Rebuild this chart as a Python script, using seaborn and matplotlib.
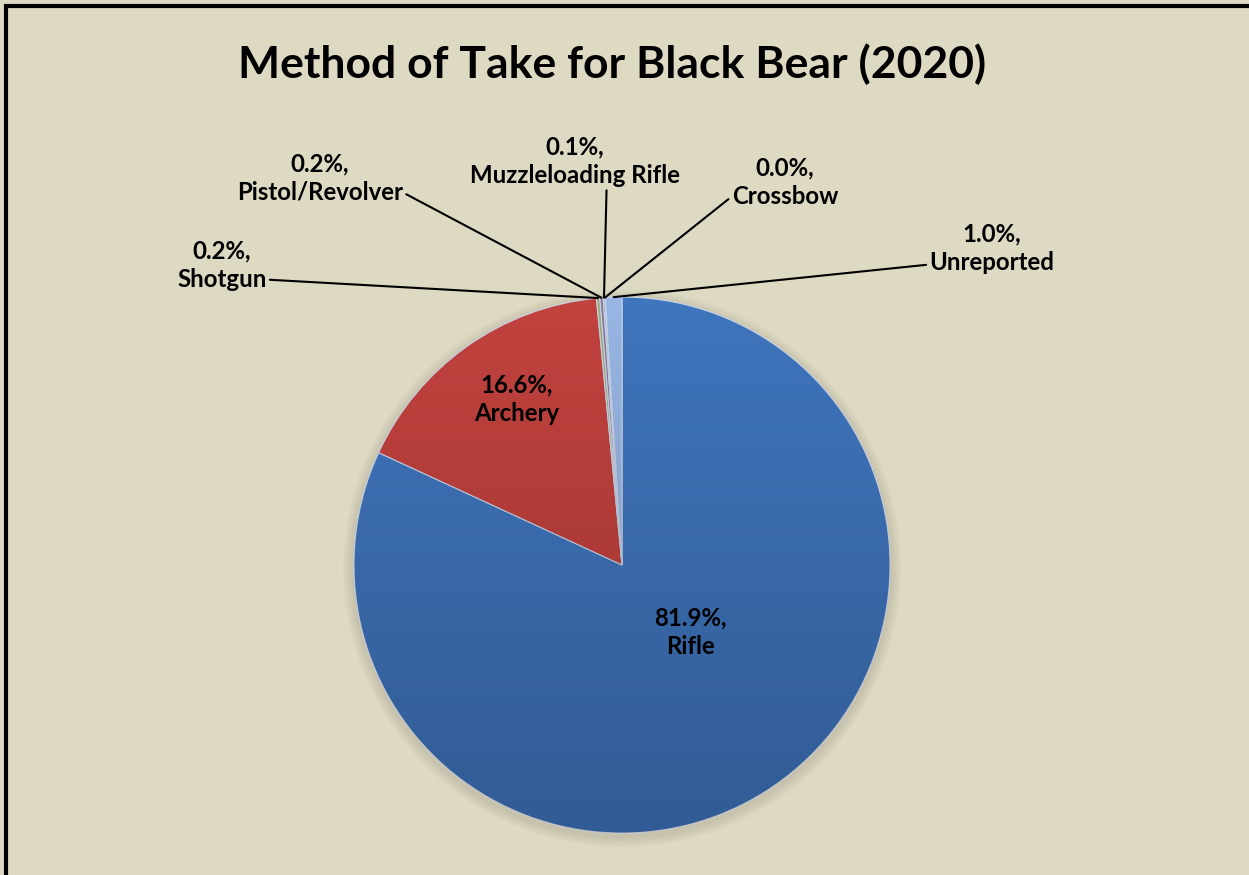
import matplotlib
matplotlib.use("Agg")
import matplotlib.pyplot as plt
import seaborn as sns
import numpy as np
from matplotlib.patches import Rectangle, Ellipse

# ---- data ----
categories = ["Rifle", "Archery", "Shotgun", "Pistol/Revolver",
              "Muzzleloading Rifle", "Crossbow", "Unreported"]
percentages = [81.9, 16.6, 0.2, 0.2, 0.1, 0.0, 1.0]
pct_labels = ["81.9%", "16.6%", "0.2%", "0.2%", "0.1%", "0.0%", "1.0%"]
title = "Method of Take for Black Bear (2020)"

# ---- style ----
sns.set_theme(style="white")
plt.rcParams["font.family"] = ["Lato", "DejaVu Sans"]
bg = "#DDD9C3"
colors = ["#3F75BD", "#C2423E", "#9BAE7A", "#8A7A9E", "#7FA9B8", "#C8B48A", "#98B5E3"]

fig = plt.figure(figsize=(12.49, 8.75), dpi=100)
fig.patch.set_facecolor(bg)

# frame (top and left edges visible)
fig.patches.append(Rectangle((5.5 / 1249, -0.05), 1.2, 1.05 - 6.5 / 875,
                             transform=fig.transFigure, fill=False,
                             edgecolor="black", linewidth=3, zorder=10))

cx, cy, r = 622, 565, 268
W, H = 1249, 875
ax = fig.add_axes([(cx - r) / W, (H - cy - r) / H, 2 * r / W, 2 * r / H])
ax.set_facecolor("none")
ax.axis("off")

# soft shadow
for i in range(4):
    ax.add_patch(Ellipse((0.0, -0.012), 2.0 + 0.02 * (i + 1), 2.0 + 0.02 * (i + 1),
                         facecolor="#6f6a55", alpha=0.05, edgecolor="none", zorder=0,
                         clip_on=False))

sizes = [max(p, 0.02) for p in percentages]
wedges, _ = ax.pie(sizes, colors=colors, startangle=90, counterclock=False,
                   radius=1.0, wedgeprops=dict(edgecolor="#C9D3E6", linewidth=0.8))

# shading overlay: darker toward the bottom
rgba = np.zeros((256, 1, 4))
rgba[:, 0, 3] = np.linspace(0.0, 0.22, 256)
for w in wedges:
    im = ax.imshow(rgba, extent=[-1, 1, -1, 1], aspect="auto", zorder=3,
                   origin="upper")
    im.set_clip_path(w)
ax.set_xlim(-1, 1)
ax.set_ylim(-1, 1)
ax.set_aspect("equal")

text_kw = dict(fontsize=17.3, fontweight="bold", color="black", ha="center",
               va="center", linespacing=1.3)

# inside labels
inside_pos = {0: (0.254, -0.25), 1: (-0.392, 0.62)}
for i, (x, y) in inside_pos.items():
    ax.text(x, y, f"{pct_labels[i]},\n{categories[i]}", zorder=6, **text_kw)

# outside labels with leader lines
outside = {
    2: ((-1.493, 1.119), (1.0, 0.22)),
    3: ((-1.127, 1.444), (1.0, 0.22)),
    4: ((-0.175, 1.507), (0.65, 0.0)),
    5: ((0.608, 1.429), (0.0, 0.22)),
    6: ((1.38, 1.183), (0.0, 0.18)),
}
for i, (xytext, relpos) in outside.items():
    w = wedges[i]
    ang = np.deg2rad((w.theta1 + w.theta2) / 2)
    xy = (np.cos(ang) * 1.0, np.sin(ang) * 1.0)
    ax.annotate(f"{pct_labels[i]},\n{categories[i]}", xy=xy, xytext=xytext,
                annotation_clip=False, zorder=7,
                arrowprops=dict(arrowstyle="-", color="black", lw=1.5,
                                shrinkA=0, shrinkB=0, relpos=relpos),
                **text_kw)

fig.text(612 / W, 1 - 64 / H, title, ha="center", va="center",
         fontsize=32, fontweight="bold", color="black")

fig.savefig("out.png", dpi=100, facecolor=bg)
